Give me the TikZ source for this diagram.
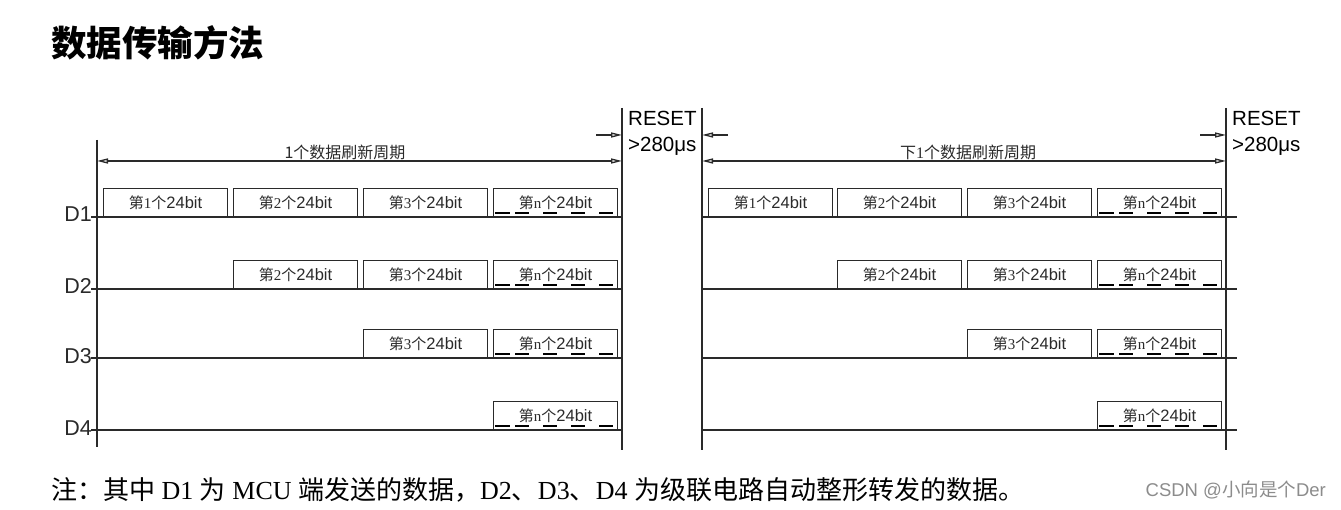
\documentclass[tikz,border=0pt]{standalone}
\usepackage{fontspec}
\setmainfont{Liberation Serif}
\setsansfont{Liberation Sans}
\newfontfamily\cjk{Noto Sans CJK SC}
\usetikzlibrary{arrows.meta}
\newcommand\zh[1]{{\cjk #1}}
\newcommand\bitlabel[1]{{\fontsize{15}{17}\selectfont\zh{第}{\rmfamily #1}\zh{个}\fontsize{16.5}{17}\selectfont\sffamily 24bit}}
\definecolor{ink}{HTML}{2A2A2A}
\tikzset{
  ln/.style={draw=ink, line width=1.3pt},
  bitbox/.style={draw=ink, line width=1.1pt, minimum width=124pt, minimum height=28pt, inner sep=0pt, anchor=south west, text=ink},
  dashseg/.style={draw=black, line width=2.2pt},
  sig/.style={font=\fontsize{21.5}{23}\selectfont\sffamily, text=ink, anchor=base east, inner sep=0pt},
  rst/.style={font=\fontsize{20.5}{22}\selectfont\sffamily, text=black, anchor=base west, inner sep=0pt},
  per/.style={font=\fontsize{16}{18}\selectfont, text=ink, inner sep=0pt},
  tip/.style={-{Triangle[open, length=11pt, width=5pt]}},
  tips/.style={{Triangle[open, length=11pt, width=5pt]}-{Triangle[open, length=11pt, width=5pt]}}
}
\newcommand\ndashes[1]{%
  \foreach \a/\b in {2/17,22/36,50/64,78/92,106/120}{
    \draw[dashseg] ([xshift=\a pt,yshift=4pt]#1.south west) -- ([xshift=\b pt,yshift=4pt]#1.south west);
  }}
\begin{document}
\begin{tikzpicture}[x=1pt,y=-1pt]
\useasboundingbox[fill=white] (0,0) rectangle (1341,510);

% title
\node[anchor=west, inner sep=0pt] (title) at (51,43) {\fontsize{35.5}{38}\selectfont\cjk\bfseries 数据传输方法};

% vertical lines
\coordinate (La) at (97,140);  \coordinate (Lb) at (97,447);
\coordinate (Ra) at (622,108); \coordinate (Rb) at (622,450);
\coordinate (Sa) at (702,108); \coordinate (Sb) at (702,450);
\coordinate (Ta) at (1226,108);\coordinate (Tb) at (1226,450);
\draw[ln] (La) -- (Lb);
\draw[ln] (Ra) -- (Rb);
\draw[ln] (Sa) -- (Sb);
\draw[ln] (Ta) -- (Tb);

% period arrows
\draw[ln, tips] (La |- 0,161) coordinate (p1a) -- (Ra |- 0,161) coordinate (p1b);
\draw[ln, tips] (Sa |- 0,161) coordinate (p2a) -- (Ta |- 0,161) coordinate (p2b);
\node[per] (per1) at (345,152) {\zh{1个数据刷新周期}};
\node[per] (per2) at (968,152) {\zh{下}1\zh{个数据刷新周期}};

% reset arrows
\coordinate (r1s) at (596,135); \coordinate (r1e) at (622,135);
\coordinate (r2s) at (728,135); \coordinate (r2e) at (702,135);
\coordinate (r3s) at (1200,135); \coordinate (r3e) at (1226,135);
\draw[ln, tip] (r1s) -- (r1e);
\draw[ln, tip] (r2s) -- (r2e);
\draw[ln, tip] (r3s) -- (r3e);
\node[rst] (reset1) at (628,126) {RESET};
\node[rst] (time1) at (628,152) {>280μs};
\node[rst] (reset2) at (1232,126) {RESET};
\node[rst] (time2) at (1232,152) {>280μs};

% signal lines
\foreach \n/\y in {1/217,2/289,3/358,4/430}{
  \node[sig] (D\n) at (92,\y+5) {D\n};
  \coordinate (l\n a) at (91,\y); \coordinate (l\n b) at (622,\y);
  \coordinate (m\n a) at (702,\y); \coordinate (m\n b) at (1237,\y);
  \draw[ln] (l\n a) -- (l\n b);
  \draw[ln] (m\n a) -- (m\n b);
}

% left panel boxes
\node[bitbox] (L11) at (103,217) {\bitlabel{1}};
\node[bitbox] (L12) at (233,217) {\bitlabel{2}};
\node[bitbox] (L13) at (363,217) {\bitlabel{3}};
\node[bitbox] (L1n) at (493,217) {\bitlabel{n}};
\node[bitbox] (L22) at (233,289) {\bitlabel{2}};
\node[bitbox] (L23) at (363,289) {\bitlabel{3}};
\node[bitbox] (L2n) at (493,289) {\bitlabel{n}};
\node[bitbox] (L33) at (363,358) {\bitlabel{3}};
\node[bitbox] (L3n) at (493,358) {\bitlabel{n}};
\node[bitbox] (L4n) at (493,430) {\bitlabel{n}};

% right panel boxes
\node[bitbox] (R11) at (708,217) {\bitlabel{1}};
\node[bitbox] (R12) at (837,217) {\bitlabel{2}};
\node[bitbox] (R13) at (967,217) {\bitlabel{3}};
\node[bitbox] (R1n) at (1097,217) {\bitlabel{n}};
\node[bitbox] (R22) at (837,289) {\bitlabel{2}};
\node[bitbox] (R23) at (967,289) {\bitlabel{3}};
\node[bitbox] (R2n) at (1097,289) {\bitlabel{n}};
\node[bitbox] (R33) at (967,358) {\bitlabel{3}};
\node[bitbox] (R3n) at (1097,358) {\bitlabel{n}};
\node[bitbox] (R4n) at (1097,430) {\bitlabel{n}};

\ndashes{L1n}\ndashes{L2n}\ndashes{L3n}\ndashes{L4n}
\ndashes{R1n}\ndashes{R2n}\ndashes{R3n}\ndashes{R4n}

% note
\node[anchor=west, inner sep=0pt, font=\fontsize{26}{28}\selectfont] (note) at (51,490)
  {\zh{注：其中} D1 \zh{为} MCU \zh{端发送的数据，}D2\zh{、}D3\zh{、}D4 \zh{为级联电路自动整形转发的数据。}};
\node[anchor=east, inner sep=0pt, text=black!45, font=\fontsize{18.5}{20}\selectfont\sffamily] (wm) at (1326,490)
  {CSDN @\zh{小向是个}Der};
\end{tikzpicture}
\end{document}
